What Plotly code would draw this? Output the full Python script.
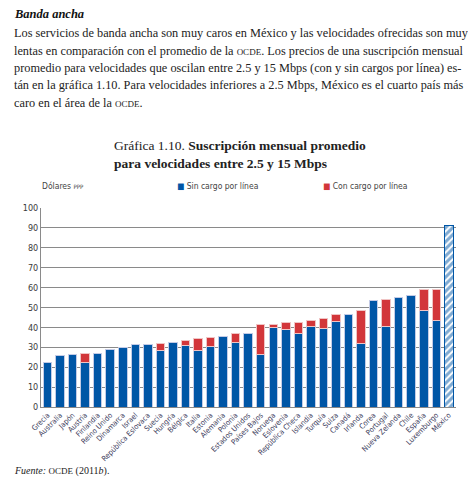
import plotly.graph_objects as go

paises = ['Grecia', 'Australia', 'Japón', 'Austria', 'Finlandia', 'Reino Unido', 'Dinamarca',
          'Israel', 'República Eslovaca', 'Suecia', 'Hungría', 'Bélgica', 'Italia', 'Estonia',
          'Alemania', 'Polonia', 'Estados Unidos', 'Países Bajos', 'Noruega', 'Eslovenia',
          'República Checa', 'Islandia', 'Turquía', 'Suiza', 'Canadá', 'Irlanda', 'Corea',
          'Portugal', 'Nueva Zelanda', 'Chile', 'España', 'Luxemburgo', 'México']

# dolares PPP, sin cargo por linea
sin_cargo = [22.2, 26.0, 26.5, 22.6, 27.1, 29.0, 29.7, 31.4, 31.3, 28.6, 32.6, 30.7, 28.6, 30.2,
             35.3, 32.6, 37.1, 26.4, 39.8, 38.8, 36.9, 40.7, 39.5, 43.0, 46.5, 31.9, 53.3,
             40.3, 54.8, 55.9, 48.3, 43.7, 91.2]

# total con cargo por linea (None = sin dato)
con_cargo = [None, None, None, 26.9, None, None, None, None, None, 32.1, None, 33.4, 34.6, 35.1,
             None, 36.7, None, 41.3, 41.4, 42.5, 42.7, 43.4, 44.4, 46.3, None, 48.7, None,
             53.9, None, None, 58.9, 59.2, None]

AZUL = '#0056a6'
ROJO = '#d2363a'
NARROW = 'Liberation Sans Narrow, DejaVu Sans Condensed, Arial Narrow, sans-serif'
SERIF = 'Liberation Serif, DejaVu Serif, serif'

# page offset of the figure (body margin) and figure size
OFF = 8
W, H = 476 - OFF, 486 - OFF

# plot area in page pixels
L, R, T, B = 40.7, 455.7, 208.3, 406.7


def px(x):
    return (x - L) / (R - L)


def py(y):
    return (B - y) / (B - T)


extra = [None if c is None else round(c - s, 1) for s, c in zip(sin_cargo, con_cargo)]
n = len(paises)

fig = go.Figure()
fig.add_trace(go.Bar(
    x=paises, y=sin_cargo, name='Sin cargo por línea',
    marker=dict(
        color=AZUL,
        line=dict(color=['#c3cbe6'] * (n - 1) + [AZUL], width=1),
        pattern=dict(shape=[''] * (n - 1) + ['/'],
                     fgcolor=AZUL, bgcolor='white', size=5, solidity=0.6),
    ),
    width=0.68,
))
fig.add_trace(go.Bar(
    x=paises, y=extra, name='Con cargo por línea',
    marker=dict(color=ROJO, line=dict(color='#f0c4c4', width=1)),
    width=0.68,
))

fig.update_layout(
    barmode='stack',
    width=W, height=H,
    margin=dict(l=L - OFF, r=W - (R - OFF), t=T - OFF, b=H - (B - OFF), autoexpand=False),
    paper_bgcolor='white', plot_bgcolor='white',
    showlegend=False,
)
fig.update_xaxes(
    range=[-0.52, 32.57], tickangle=-45,
    tickfont=dict(family=NARROW, size=7.5, color='#3c3c5c'),
    showline=True, linecolor='#8a8a8a', linewidth=1, ticks='',
)
fig.update_yaxes(
    range=[0, 100], dtick=10,
    tickfont=dict(family=NARROW, size=9, color='#3a3a3a'),
    showgrid=True, gridcolor='#8a8a8a', gridwidth=1,
    showline=True, linecolor='#8a8a8a', linewidth=1, zeroline=False,
)

sc = '<span style="font-size:9px">OCDE</span>'
lineas = [
    'Los servicios de banda ancha son muy caros en México y las velocidades ofrecidas son muy',
    f'lentas en comparación con el promedio de la {sc}. Los precios de una suscripción mensual',
    'promedio para velocidades que oscilan entre 2.5 y 15 Mbps (con y sin cargos por línea) es-',
    'tán en la gráfica 1.10. Para velocidades inferiores a 2.5 Mbps, México es el cuarto país más',
    f'caro en el área de la {sc}.',
]

notas = [
    dict(x=px(12), y=py(15), text='<b><i>Banda ancha</i></b>', xanchor='left',
         font=dict(family=SERIF, size=12.5, color='#111111')),
]
for i, t in enumerate(lineas):
    notas.append(dict(x=px(12), y=py(34 + i * 17.3), text=t, xanchor='left',
                      font=dict(family=SERIF, size=12.3, color='#222222')))

notas += [
    dict(x=px(240), y=py(155),
         text='Gráfica 1.10. <b>Suscripción mensual promedio</b><br><b>para velocidades entre 2.5 y 15 Mbps</b>',
         xanchor='center', font=dict(family=SERIF, size=13.5, color='#222222')),
    dict(x=px(40), y=py(186), text='Dólares <span style="font-size:6px">PPP</span>', xanchor='left',
         font=dict(family=NARROW, size=8.5, color='#444444')),
    dict(x=px(175), y=py(186), text=f'<span style="color:{AZUL}">■</span> Sin cargo por línea',
         xanchor='left', font=dict(family=NARROW, size=8.5, color='#444444')),
    dict(x=px(321), y=py(186), text=f'<span style="color:{ROJO}">■</span> Con cargo por línea',
         xanchor='left', font=dict(family=NARROW, size=8.5, color='#444444')),
    dict(x=px(12), y=py(471),
         text=f'<i>Fuente:</i> {sc} (2011<i>b</i>).', xanchor='left',
         font=dict(family=SERIF, size=10, color='#222222')),
]
for a in notas:
    a.update(xref='paper', yref='paper', yanchor='middle', showarrow=False, align='left')
fig.update_layout(annotations=notas)

fig.write_html('out.html')
